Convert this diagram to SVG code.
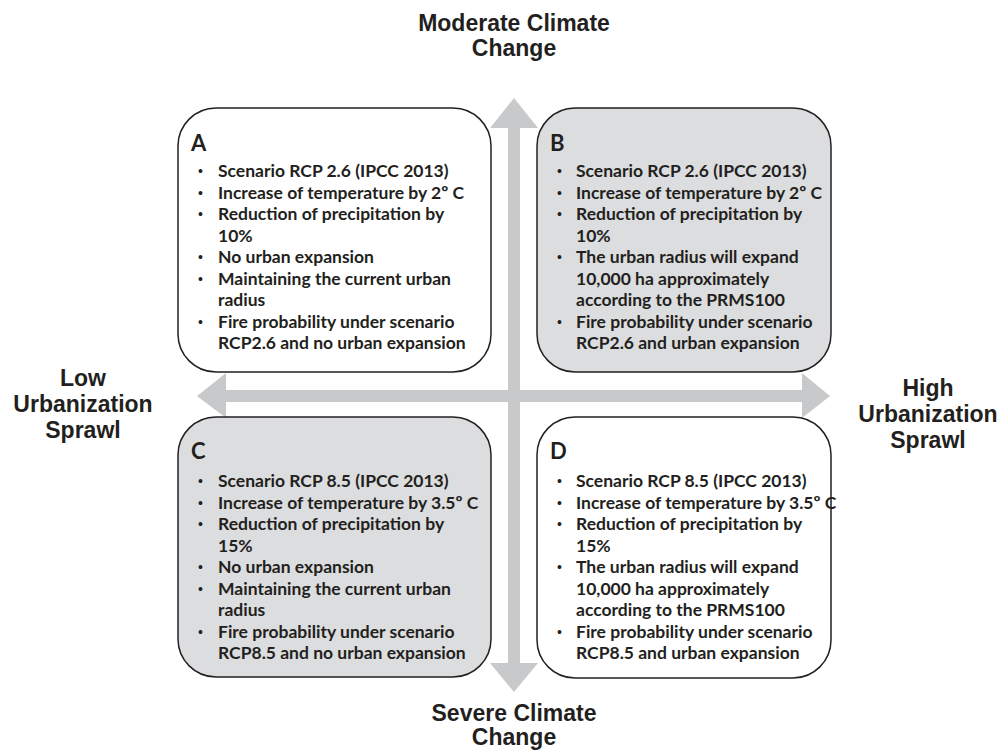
<svg xmlns="http://www.w3.org/2000/svg" width="1001" height="753" viewBox="0 0 1001 753">
<style>
.box{stroke:#231f20;stroke-width:1.5}
.w{fill:#ffffff}
.g{fill:#dcdddf}
.t{font-family:Lato,"Open Sans","Liberation Sans",sans-serif;font-weight:bold;font-size:17.5px;fill:#231f20}
.b{font-family:"Liberation Sans",Arial,sans-serif;font-size:14px;fill:#231f20}
.L{font-family:Lato,"Open Sans","Liberation Sans",sans-serif;font-weight:bold;font-size:22px;fill:#231f20}
.h{font-family:"Liberation Sans",Arial,sans-serif;font-weight:bold;font-size:23px;fill:#231f20;text-anchor:middle}
.arr{fill:#c8c9cb}
</style>
<rect width="1001" height="753" fill="#ffffff"/>
<g id="connectors">
<rect class="arr" x="508" y="126" width="12" height="539"/>
<polygon class="arr" points="490,128 514,98 538,128"/>
<polygon class="arr" points="490,663 514,692 538,663"/>
<rect class="arr" x="224" y="390" width="580" height="12"/>
<polygon class="arr" points="226,373 197,396 226,418"/>
<polygon class="arr" points="802,373 830,396 802,418"/>
</g>
<g id="label-top">
<text class="h" x="514" y="31">Moderate Climate</text>
<text class="h" x="514" y="56">Change</text>
</g>
<g id="label-bottom">
<text class="h" x="514" y="721">Severe Climate</text>
<text class="h" x="514" y="745">Change</text>
</g>
<g id="label-left">
<text class="h" x="83" y="386">Low</text>
<text class="h" x="83" y="412">Urbanization</text>
<text class="h" x="83" y="438">Sprawl</text>
</g>
<g id="label-right">
<text class="h" x="928" y="396">High</text>
<text class="h" x="928" y="422">Urbanization</text>
<text class="h" x="928" y="448">Sprawl</text>
</g>
<g id="box-A">
<rect class="box w" x="178" y="108" width="313" height="264" rx="38" ry="38"/>
<text class="L" x="191" y="151">A</text>
<g class="b">
<text x="198" y="176">•</text><text x="198" y="197.5">•</text><text x="198" y="219">•</text><text x="198" y="262">•</text><text x="198" y="283.5">•</text><text x="198" y="326.5">•</text>
</g>
<g class="t">
<text x="218" y="177">Scenario RCP 2.6 (IPCC 2013)</text>
<text x="218" y="198.5">Increase of temperature by 2º C</text>
<text x="218" y="220">Reduction of precipitation by</text>
<text x="218" y="241.5">10%</text>
<text x="218" y="263">No urban expansion</text>
<text x="218" y="284.5">Maintaining the current urban</text>
<text x="218" y="306">radius</text>
<text x="218" y="327.5">Fire probability under scenario</text>
<text x="218" y="349">RCP2.6 and no urban expansion</text>
</g>
</g>
<g id="box-B">
<rect class="box g" x="537" y="108" width="294" height="264" rx="38" ry="38"/>
<text class="L" x="550" y="151">B</text>
<g class="b">
<text x="557" y="176">•</text><text x="557" y="197.5">•</text><text x="557" y="219">•</text><text x="557" y="262">•</text><text x="557" y="326.5">•</text>
</g>
<g class="t">
<text x="576" y="177">Scenario RCP 2.6 (IPCC 2013)</text>
<text x="576" y="198.5">Increase of temperature by 2º C</text>
<text x="576" y="220">Reduction of precipitation by</text>
<text x="576" y="241.5">10%</text>
<text x="576" y="263">The urban radius will expand</text>
<text x="576" y="284.5">10,000 ha approximately</text>
<text x="576" y="306">according to the PRMS100</text>
<text x="576" y="327.5">Fire probability under scenario</text>
<text x="576" y="349">RCP2.6 and urban expansion</text>
</g>
</g>
<g id="box-C">
<rect class="box g" x="178" y="417" width="313" height="260" rx="38" ry="38"/>
<text class="L" x="191" y="459">C</text>
<g class="b">
<text x="198" y="486">•</text><text x="198" y="507.5">•</text><text x="198" y="529">•</text><text x="198" y="572">•</text><text x="198" y="593.5">•</text><text x="198" y="636.5">•</text>
</g>
<g class="t">
<text x="218" y="487">Scenario RCP 8.5 (IPCC 2013)</text>
<text x="218" y="508.5">Increase of temperature by 3.5º C</text>
<text x="218" y="530">Reduction of precipitation by</text>
<text x="218" y="551.5">15%</text>
<text x="218" y="573">No urban expansion</text>
<text x="218" y="594.5">Maintaining the current urban</text>
<text x="218" y="616">radius</text>
<text x="218" y="637.5">Fire probability under scenario</text>
<text x="218" y="659">RCP8.5 and no urban expansion</text>
</g>
</g>
<g id="box-D">
<rect class="box w" x="537" y="417" width="294" height="261" rx="38" ry="38"/>
<text class="L" x="550" y="459">D</text>
<g class="b">
<text x="557" y="486">•</text><text x="557" y="507.5">•</text><text x="557" y="529">•</text><text x="557" y="572">•</text><text x="557" y="636.5">•</text>
</g>
<g class="t">
<text x="576" y="487">Scenario RCP 8.5 (IPCC 2013)</text>
<text x="576" y="508.5">Increase of temperature by 3.5º C</text>
<text x="576" y="530">Reduction of precipitation by</text>
<text x="576" y="551.5">15%</text>
<text x="576" y="573">The urban radius will expand</text>
<text x="576" y="594.5">10,000 ha approximately</text>
<text x="576" y="616">according to the PRMS100</text>
<text x="576" y="637.5">Fire probability under scenario</text>
<text x="576" y="659">RCP8.5 and urban expansion</text>
</g>
</g>
</svg>
